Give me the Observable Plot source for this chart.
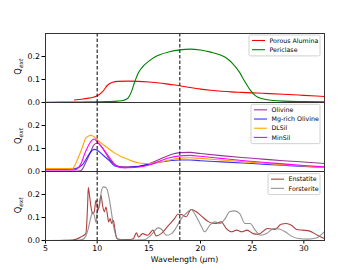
<!DOCTYPE html>
<html><head><meta charset="utf-8">
<script src="https://cdn.jsdelivr.net/npm/d3@7"></script>
<script src="https://cdn.jsdelivr.net/npm/@observablehq/plot@0.6"></script>
<style>body{margin:0;background:#fff}#chart{width:360px;height:270px}</style>
</head><body><div id="chart"></div>
<script>
// ---------- data ----------
const panels = ["top", "middle", "bottom"];
const xTicks = [5, 10, 15, 20, 25, 30];
const yTicks = [0, 0.1, 0.2];
const markerWavelengths = [10, 18];
const xLabel = "Wavelength (";
const yLabelMain = "Q";
const yLabelSub = "ext";

const seriesNames = ["Porous Alumina", "Periclase", "Olivine", "Mg-rich Olivine", "DLSil", "MinSil", "Enstatite", "Forsterite"];
const seriesPanels = ["top", "top", "middle", "middle", "middle", "middle", "bottom", "bottom"];
const seriesColors = ["red", "green", "purple", "blue", "orange", "magenta", "#a52a2a", "gray"];
const seriesOpacity = [1, 1, 0.8, 0.8, 1, 1, 0.9, 0.85];

const porousAlumina = [[7.8,0.011],[8.5,0.014],[9.2,0.019],[9.7,0.024],[10,0.029],[10.5,0.046],[11,0.075],[11.5,0.088],[12,0.092],[13,0.093],[14,0.092],[15,0.089],[16,0.085],[17,0.079],[18,0.073],[19,0.065],[20,0.058],[21,0.053],[22,0.049],[23,0.046],[24,0.044],[25,0.042],[26,0.04],[28,0.036],[30,0.031],[32,0.026]];
const periclase = [[5,0.001],[8,0.002],[10,0.003],[11,0.004],[12,0.006],[12.6,0.01],[13.0,0.02],[13.3,0.045],[13.6,0.085],[14.0,0.13],[14.5,0.16],[15,0.18],[15.5,0.196],[16,0.207],[17,0.221],[18,0.229],[19,0.232],[20,0.228],[21,0.219],[22,0.205],[22.6,0.19],[23.2,0.165],[23.8,0.13],[24.3,0.09],[24.8,0.055],[25.3,0.03],[26,0.016],[27,0.009],[28,0.006],[30,0.004],[32,0.003]];
const olivine = [[5,0.001],[8,0.001],[8.4,0.003],[8.9,0.039],[9.4,0.089],[9.7,0.117],[10.05,0.124],[10.5,0.103],[11.2,0.053],[11.8,0.027],[12.5,0.02],[13.5,0.021],[14.5,0.027],[15.5,0.042],[16.5,0.062],[17.3,0.076],[18,0.082],[19,0.083],[20,0.078],[22,0.069],[24,0.061],[26,0.054],[28,0.047],[30,0.041],[32,0.035]];
const mgRichOlivine = [[5,0.01],[7,0.01],[7.8,0.012],[8.6,0.031],[9.2,0.074],[9.7,0.096],[10.05,0.091],[10.5,0.074],[11.2,0.046],[11.7,0.024],[12.7,0.017],[14,0.022],[15,0.03],[16,0.04],[17,0.047],[18,0.05],[19,0.05],[20,0.047],[22,0.042],[24,0.037],[26,0.032],[28,0.027],[30,0.022],[32,0.018]];
const dlsil = [[5,0.013],[7.6,0.013],[8.1,0.053],[8.6,0.11],[8.9,0.146],[9.4,0.157],[9.72,0.15],[10.05,0.136],[10.7,0.113],[11.66,0.081],[12.96,0.053],[14.25,0.036],[15,0.035],[16,0.04],[17,0.05],[18,0.058],[19,0.06],[20,0.057],[22,0.05],[24,0.043],[26,0.036],[28,0.03],[30,0.024],[32,0.018]];
const minsil = [[5,0.007],[7.8,0.007],[8.4,0.031],[8.9,0.089],[9.4,0.131],[9.7,0.141],[10.05,0.127],[10.5,0.103],[11.2,0.06],[11.7,0.031],[12.3,0.017],[13,0.017],[14.25,0.021],[15,0.028],[16,0.045],[17,0.06],[18,0.068],[19,0.07],[20,0.066],[22,0.057],[24,0.048],[26,0.04],[28,0.033],[30,0.026],[32,0.02]];
const enstatite = [[5,0],[6,0],[7,0.001],[7.6,0.002],[8.0,0.006],[8.43,0.016],[8.9,0.03],[9.0,0.08],[9.08,0.16],[9.14,0.23],[9.25,0.2],[9.4,0.146],[9.56,0.117],[9.72,0.125],[9.88,0.175],[9.98,0.16],[10.05,0.13],[10.2,0.153],[10.37,0.197],[10.53,0.15],[10.7,0.125],[10.85,0.145],[11.02,0.103],[11.1,0.081],[11.27,0.095],[11.4,0.074],[11.57,0.088],[11.73,0.045],[11.9,0.009],[12.2,0.004],[13,0.004],[13.5,0.008],[13.8,0.033],[14.0,0.015],[14.4,0.03],[14.9,0.023],[15.4,0.045],[15.7,0.02],[16.2,0.03],[16.8,0.06],[17.5,0.096],[17.8,0.114],[18.15,0.113],[18.6,0.103],[19.1,0.135],[19.6,0.125],[20.1,0.106],[20.8,0.081],[21.4,0.074],[22,0.081],[22.5,0.052],[23,0.038],[23.5,0.045],[24,0.038],[24.5,0.045],[25.1,0.03],[25.6,0.027],[26.5,0.052],[27.2,0.048],[27.8,0.071],[28.3,0.074],[28.8,0.066],[29.3,0.048],[29.9,0.045],[30.5,0.042],[31.3,0.023],[32,0.009]];
const forsterite = [[5,0],[8,0.001],[8.6,0.005],[8.9,0.02],[9.1,0.045],[9.4,0.103],[9.56,0.125],[9.72,0.11],[9.88,0.08],[10.05,0.14],[10.2,0.145],[10.37,0.204],[10.6,0.233],[10.85,0.23],[11.07,0.204],[11.3,0.146],[11.6,0.06],[11.85,0.016],[12,0.006],[13,0.002],[14.5,0.003],[15.2,0.023],[15.9,0.055],[16.2,0.05],[16.7,0.023],[17.2,0.03],[17.7,0.06],[18.15,0.096],[18.6,0.117],[19.1,0.135],[19.6,0.103],[20.1,0.06],[20.4,0.038],[20.9,0.067],[21.4,0.081],[21.9,0.074],[22.4,0.096],[22.8,0.125],[23.3,0.129],[23.8,0.117],[24.3,0.074],[24.8,0.074],[25.3,0.045],[25.8,0.023],[26.4,0.03],[27.1,0.052],[27.6,0.05],[28.2,0.038],[28.8,0.019],[29.5,0.009],[30.4,0.006],[31.3,0.012],[31.8,0.03],[32,0.038]];

const seriesPoints = [porousAlumina, periclase, olivine, mgRichOlivine, dlsil, minsil, enstatite, forsterite];

// ---------- table ----------
const rows = seriesNames.flatMap((name, i) =>
  seriesPoints[i].map(([x, y]) => ({series: name, panel: seriesPanels[i], x, y})));

// ---------- chart ----------
const W = 360, H = 270, mt = 32, mb = 30, ml = 45, mr = 36;
const lineMarks = seriesNames.map((name, i) =>
  Plot.line(rows.filter(d => d.series === name), {
    x: "x", y: "y", fy: "panel",
    stroke: seriesColors[i], strokeOpacity: seriesOpacity[i],
    strokeWidth: 1.1, curve: "monotone-x"
  }));

const chart = Plot.plot({
  width: W, height: H,
  marginTop: mt, marginBottom: mb, marginLeft: ml, marginRight: mr,
  style: {fontFamily: "DejaVu Sans, sans-serif", fontSize: "7.8px", background: "#fff", color: "#000", overflow: "visible"},
  x: {domain: [5, 32], ticks: xTicks, label: null, tickSize: 3.5, tickPadding: 1.5},
  y: {domain: [0, 0.3], ticks: yTicks, tickFormat: d3.format(".1f"), label: null, tickSize: 3.5, tickPadding: 2},
  fy: {domain: panels, padding: 0, axis: null, label: null},
  marks: [
    ...lineMarks,
    Plot.ruleX(markerWavelengths, {stroke: "#000", strokeWidth: 1, strokeDasharray: "3.5,2"}),
    Plot.frame({stroke: "#333", strokeWidth: 1})
  ]
});
document.getElementById("chart").appendChild(chart);

// ---------- labels & legends ----------
const svg = d3.select(chart);
const ph = (H - mt - mb) / panels.length;

panels.forEach((p, k) => {
  const cy = mt + ph * k + ph / 2;
  const t = svg.append("text")
    .attr("transform", `translate(20.7,${cy}) rotate(-90)`)
    .attr("text-anchor", "middle")
    .attr("font-size", "8.3px")
    .attr("fill", "#000");
  t.append("tspan").text(yLabelMain);
  t.append("tspan").attr("dy", 1.8).attr("font-size", "5.9px").attr("font-style", "italic").text(yLabelSub);
});

const xl = svg.append("text")
  .attr("x", ml + (W - ml - mr) / 2).attr("y", 262)
  .attr("text-anchor", "middle").attr("font-size", "7.8px").attr("fill", "#000");
xl.append("tspan").text(xLabel);
xl.append("tspan").attr("font-style", "italic").text("\u03bc");
xl.append("tspan").text("m)");

const legendLeft = {top: 249, middle: 251, bottom: 268};
const legendRight = 320;
const rowH = 9.2;
panels.forEach((p, k) => {
  const idx = seriesNames.map((n, i) => i).filter(i => seriesPanels[i] === p);
  const top = mt + ph * k + 3;
  const left = legendLeft[p];
  const g = svg.append("g").attr("text-anchor", "start");
  g.append("rect")
    .attr("x", left).attr("y", top)
    .attr("width", legendRight - left).attr("height", idx.length * rowH + 2.5)
    .attr("rx", 1.5)
    .style("fill", "#fff").style("fill-opacity", 0.85)
    .style("stroke", "#cccccc").style("stroke-width", "0.9px");
  idx.forEach((i, j) => {
    const yy = top + 5.5 + j * rowH;
    g.append("line")
      .attr("x1", left + 3).attr("x2", left + 16).attr("y1", yy).attr("y2", yy)
      .style("stroke", seriesColors[i]).style("stroke-opacity", seriesOpacity[i]).style("stroke-width", "1.1px");
    g.append("text")
      .attr("x", left + 20.5).attr("y", yy).attr("dy", "0.35em")
      .attr("text-anchor", "start")
      .attr("font-size", "6.3px").style("fill", "#000").text(seriesNames[i]);
  });
});
</script>
</body></html>
